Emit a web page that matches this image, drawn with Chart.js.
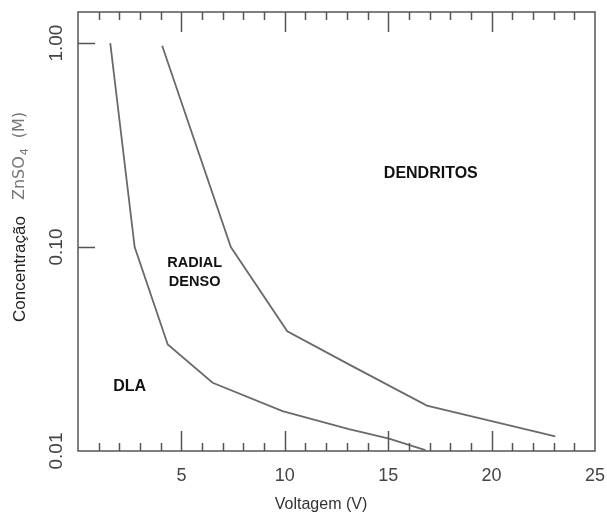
<!DOCTYPE html>
<html>
<head>
<meta charset="utf-8">
<script src="https://cdn.jsdelivr.net/npm/chart.js@4/dist/chart.umd.min.js"></script>
<style>
  html, body { margin: 0; padding: 0; background: #fff; }
  #chart { display: block; }
</style>
</head>
<body>
<canvas id="chart" width="607" height="516"></canvas>
<script>
// boundary DLA / radial denso
const dlaVolt = [1.56, 2.74, 4.34, 6.51, 9.89, 13.1, 15.04, 16.8];
const dlaConc = [1.0, 0.100, 0.0333, 0.0216, 0.0157, 0.0128, 0.0115, 0.0101];
// boundary radial denso / dendritos
const dendVolt = [4.07, 7.39, 10.12, 13.1, 16.87, 23.08];
const dendConc = [0.97, 0.100, 0.0386, 0.0266, 0.0167, 0.0118];

const yTicks = [0.01, 0.1, 1];
const yTickLabels = ['0.01', '0.10', '1.00'];
const xMajorStep = 5;

const lineColor = '#6a6a6a';
const axisColor = '#555';

function toPoints(xs, ys) {
    return xs.map((x, i) => ({x: x, y: ys[i]}));
}

// frame, inward ticks, titles and region names
const decorations = {
    id: 'decorations',
    afterDraw(chart) {
        const ctx = chart.ctx;
        const area = chart.chartArea;
        const xs = chart.scales.x;
        const ys = chart.scales.y;
        ctx.save();
        ctx.strokeStyle = axisColor;
        ctx.lineWidth = 1.5;
        ctx.strokeRect(area.left, area.top, area.right - area.left, area.bottom - area.top);

        ctx.beginPath();
        xs.ticks.forEach(t => {
            if (t.value <= xs.min || t.value >= xs.max) return;
            const px = Math.round(xs.getPixelForValue(t.value)) + 0.5;
            const len = t.value % xMajorStep === 0 ? 20 : 8;
            ctx.moveTo(px, area.bottom);
            ctx.lineTo(px, area.bottom - len);
            ctx.moveTo(px, area.top);
            ctx.lineTo(px, area.top + len);
        });
        yTicks.forEach(v => {
            if (v <= ys.min) return;
            const py = Math.round(ys.getPixelForValue(v)) + 0.5;
            ctx.moveTo(area.left, py);
            ctx.lineTo(area.left + 17, py);
        });
        ctx.stroke();

        // region names
        ctx.fillStyle = '#111';
        ctx.textAlign = 'center';
        ctx.textBaseline = 'middle';
        const names = [
            {text: 'DENDRITOS', x: 17.06, y: 0.229, size: 16},
            {text: 'RADIAL', x: 5.64, y: 0.0838, size: 14.5},
            {text: 'DENSO', x: 5.64, y: 0.0677, size: 14.5},
            {text: 'DLA', x: 2.5, y: 0.0207, size: 16}
        ];
        names.forEach(n => {
            ctx.font = 'bold ' + n.size + 'px "Liberation Sans", Arial, sans-serif';
            ctx.fillText(n.text, xs.getPixelForValue(n.x), ys.getPixelForValue(n.y));
        });

        // x title
        ctx.fillStyle = '#333';
        ctx.font = '16px "Liberation Sans", Arial, sans-serif';
        ctx.fillText('Voltagem (V)', 321, 505);

        // y title, rotated
        ctx.translate(20, 322);
        ctx.rotate(-Math.PI / 2);
        ctx.textAlign = 'left';
        ctx.font = '17px "Liberation Sans", Arial, sans-serif';
        ctx.fillStyle = '#222';
        ctx.fillText('Concentração', 0, 0);
        let pos = 122;
        ctx.fillStyle = '#777';
        ctx.font = '16px "DejaVu Sans", sans-serif';
        ctx.fillText('ZnSO', pos, 0);
        pos += ctx.measureText('ZnSO').width + 1;
        ctx.font = '11px "DejaVu Sans", sans-serif';
        ctx.fillText('4', pos, 5);
        pos += ctx.measureText('4').width + 10;
        ctx.font = '16px "DejaVu Sans", sans-serif';
        ctx.fillText('(M)', pos, 0);
        ctx.restore();
    }
};

new Chart(document.getElementById('chart'), {
    type: 'line',
    data: {
        datasets: [
            {
                label: 'DLA',
                data: toPoints(dlaVolt, dlaConc),
                borderColor: lineColor,
                borderWidth: 1.8,
                pointRadius: 0,
                tension: 0,
                fill: false
            },
            {
                label: 'Dendritos',
                data: toPoints(dendVolt, dendConc),
                borderColor: lineColor,
                borderWidth: 1.8,
                pointRadius: 0,
                tension: 0,
                fill: false
            }
        ]
    },
    options: {
        responsive: false,
        animation: false,
        devicePixelRatio: 1,
        layout: { padding: { top: 12, right: 12, left: 0, bottom: 0 } },
        plugins: {
            legend: { display: false },
            tooltip: { enabled: false }
        },
        scales: {
            x: {
                type: 'linear',
                min: 0,
                max: 25,
                afterFit(scale) {
                    scale.height = 65;
                    scale.paddingLeft = 0;
                    scale.paddingRight = 0;
                },
                grid: { display: false, drawTicks: false },
                border: { display: false },
                ticks: {
                    stepSize: 1,
                    autoSkip: false,
                    maxRotation: 0,
                    padding: 14,
                    color: '#444',
                    font: { family: '"Liberation Sans", Arial, sans-serif', size: 18 },
                    callback: v => (v > 0 && v % xMajorStep === 0) ? String(v) : ''
                }
            },
            y: {
                type: 'logarithmic',
                min: 0.01,
                max: 1.42,
                afterFit(scale) {
                    scale.width = 78;
                    scale.paddingTop = 0;
                    scale.paddingBottom = 0;
                },
                afterBuildTicks(scale) { scale.ticks = yTicks.map(v => ({value: v})); },
                grid: { display: false, drawTicks: false },
                border: { display: false },
                ticks: {
                    autoSkip: false,
                    minRotation: 90,
                    maxRotation: 90,
                    crossAlign: 'center',
                    padding: 3,
                    color: '#444',
                    font: { family: '"Liberation Sans", Arial, sans-serif', size: 19 },
                    callback: (v, i) => yTickLabels[i]
                }
            }
        }
    },
    plugins: [decorations]
});
</script>
</body>
</html>
